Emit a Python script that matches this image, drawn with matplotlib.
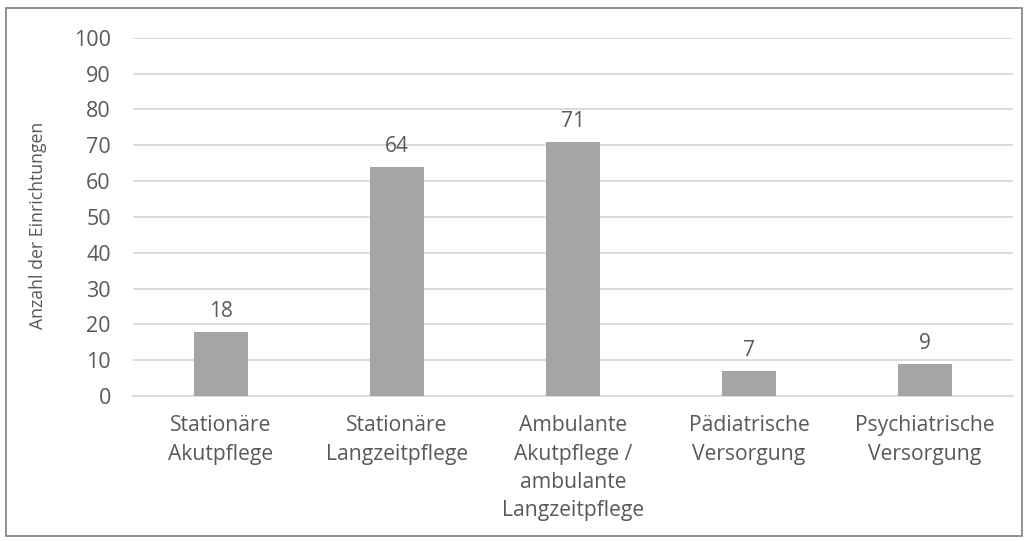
import matplotlib.pyplot as plt
from matplotlib.patches import Rectangle

categories = [
    "Stationäre\nAkutpflege",
    "Stationäre\nLangzeitpflege",
    "Ambulante\nAkutpflege /\nambulante\nLangzeitpflege",
    "Pädiatrische\nVersorgung",
    "Psychiatrische\nVersorgung",
]
counts = [18, 64, 71, 7, 9]
y_ticks = list(range(0, 101, 10))

text_color = "#595959"
plt.rcParams["font.family"] = ["Open Sans", "DejaVu Sans"]

fig = plt.figure(figsize=(10.29, 5.41), dpi=100)
ax = fig.add_axes([0.1293, 0.268, 0.8552, 0.6622])

x = range(len(categories))
bars = ax.bar(x, counts, width=0.31, color="#a5a5a5", zorder=3)
for rect, v in zip(bars, counts):
    ax.annotate(str(v), (rect.get_x() + rect.get_width() / 2, v),
                xytext=(0, 7), textcoords="offset points",
                ha="center", va="bottom", fontsize=15, color=text_color)

ax.set_xlim(-0.5, len(categories) - 0.5)
ax.set_ylim(0, 100)
ax.set_yticks(y_ticks)
ax.set_xticks(list(x))
ax.set_xticklabels(categories, fontsize=15.2, color=text_color, linespacing=1.45)
ax.tick_params(axis="y", labelsize=15.5, labelcolor=text_color, length=0, pad=16)
ax.tick_params(axis="x", length=0, pad=14)
ax.grid(axis="y", color="#d9d9d9", linewidth=1.3, zorder=0)
for side in ["top", "right", "left"]:
    ax.spines[side].set_visible(False)
ax.spines["bottom"].set_color("#d9d9d9")
ax.spines["bottom"].set_linewidth(1.3)

ax.set_ylabel("Anzahl der Einrichtungen", fontsize=12.7, color=text_color)
ax.yaxis.set_label_coords(-0.098, 0.475)

# outer frame around the chart
fig.patches.append(Rectangle((6 / 1029, 5 / 541), 1016 / 1029, 528 / 541,
                             transform=fig.transFigure, fill=False,
                             edgecolor="#7f7f7f", linewidth=1.2))

fig.savefig("out.png", dpi=100)
